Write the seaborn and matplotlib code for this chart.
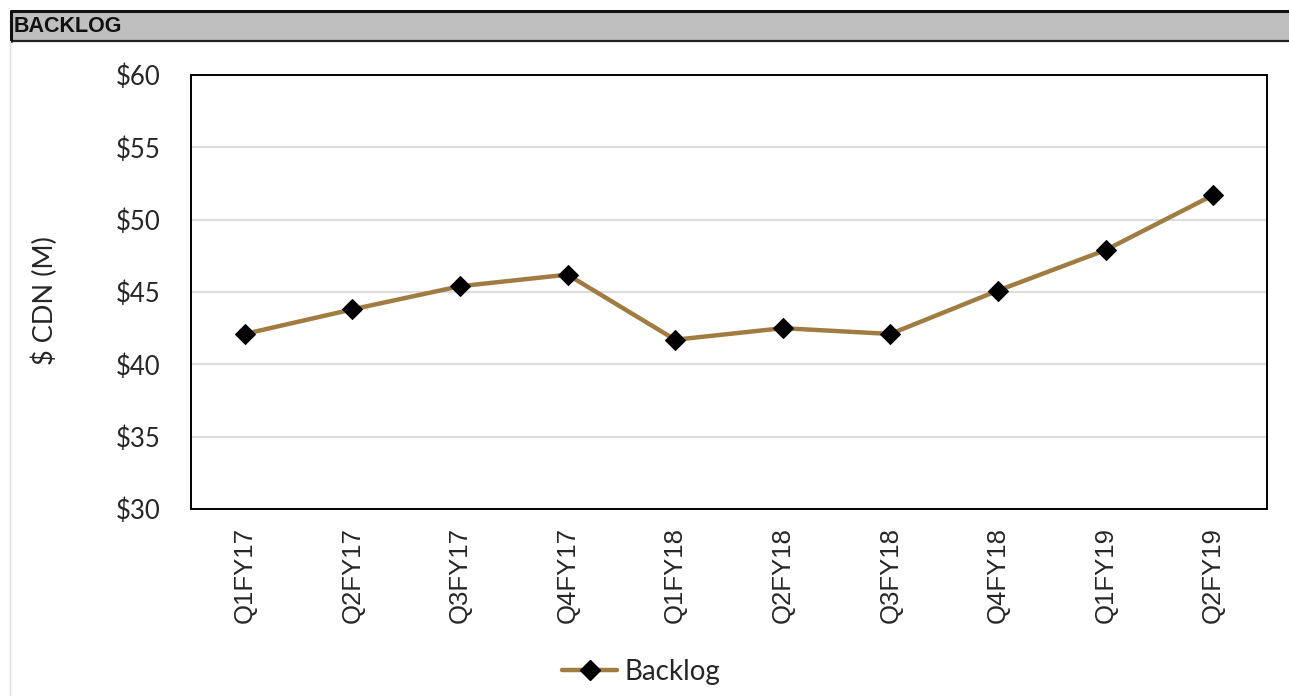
import matplotlib
matplotlib.use("Agg")
import matplotlib.pyplot as plt
from matplotlib.patches import Rectangle
from matplotlib.lines import Line2D
from matplotlib.ticker import FixedLocator, FuncFormatter
import seaborn as sns
import pandas as pd

quarters = ["Q1FY17", "Q2FY17", "Q3FY17", "Q4FY17", "Q1FY18",
            "Q2FY18", "Q3FY18", "Q4FY18", "Q1FY19", "Q2FY19"]
backlog = [42.1, 43.8, 45.4, 46.2, 41.7, 42.5, 42.1, 45.1, 47.9, 51.7]
y_ticks = [30, 35, 40, 45, 50, 55, 60]

df = pd.DataFrame({"pos": range(len(quarters)), "quarter": quarters, "Backlog": backlog})

sns.set_style("white")
plt.rcParams["font.family"] = ["Lato", "DejaVu Sans"]

W, H = 1289, 696
fig = plt.figure(figsize=(W / 100, H / 100), dpi=100)
fig.patch.set_facecolor("white")


def fx(px):
    return px / W


def fy(py):
    return 1 - py / H


# panel header bar
fig.patches.append(Rectangle((fx(11), fy(41)), fx(W - 11), fy(11) - fy(41),
                             transform=fig.transFigure, facecolor="#bfbfbf",
                             edgecolor="none", zorder=0))
for (x0, y0, x1, y1, lw, c) in [
    (11, 11, W, 11, 2.2, "#111111"),
    (11, 41, W, 41, 1.6, "#222222"),
    (11, 11, 11, 41, 2.2, "#111111"),
    (10, 41, 10, H, 1.0, "#dddddd"),
]:
    fig.add_artist(Line2D([fx(x0), fx(x1)], [fy(y0), fy(y1)], transform=fig.transFigure,
                          color=c, linewidth=lw))
fig.text(fx(14), fy(27), "BACKLOG", family="Liberation Sans", fontweight="bold",
         fontsize=15.5, va="center", ha="left", color="#111111")

ax = fig.add_axes([fx(191), fy(509), fx(1267 - 191), fy(75) - fy(509)])

line_color = "#a07c40"
sns.lineplot(data=df, x="pos", y="Backlog", ax=ax, color=line_color, linewidth=3.2,
             marker="D", markersize=10, markerfacecolor="black", markeredgecolor="black",
             label="Backlog", legend=False)

ax.set_xlim(-0.5, len(quarters) - 0.5)
ax.set_ylim(y_ticks[0], y_ticks[-1])
ax.yaxis.set_major_locator(FixedLocator(y_ticks))
ax.yaxis.set_major_formatter(FuncFormatter(lambda v, p: f"${v:.0f}"))
ax.set_xticks(range(len(quarters)))
ax.set_xticklabels(quarters, rotation=90, family="Liberation Sans", fontsize=18.5)
ax.set_xticks([i - 0.5 for i in range(len(quarters) + 1)], minor=True)
ax.tick_params(axis="x", which="major", length=0, pad=13)
ax.tick_params(axis="x", which="minor", length=9, width=1.3, color="black", direction="out")
ax.tick_params(axis="y", length=0, labelsize=18.5, pad=22)
ax.grid(axis="y", color="#dcdcdc", linewidth=1.5)
ax.set_axisbelow(True)
for s in ax.spines.values():
    s.set_visible(True)
    s.set_color("black")
    s.set_linewidth(1.4)

ax.set_xlabel("")
ax.set_ylabel("$ CDN (M)", fontsize=19.5)
ax.yaxis.set_label_coords(-0.124, 0.48)

handle = Line2D([], [], color=line_color, linewidth=3.2, marker="D", markersize=10,
                markerfacecolor="black", markeredgecolor="black")
fig.legend([handle], ["Backlog"], loc="center", bbox_to_anchor=(fx(641), fy(672)),
           frameon=False, fontsize=20, handlelength=2.0, handletextpad=0.25)

fig.savefig("out.png", dpi=100)
